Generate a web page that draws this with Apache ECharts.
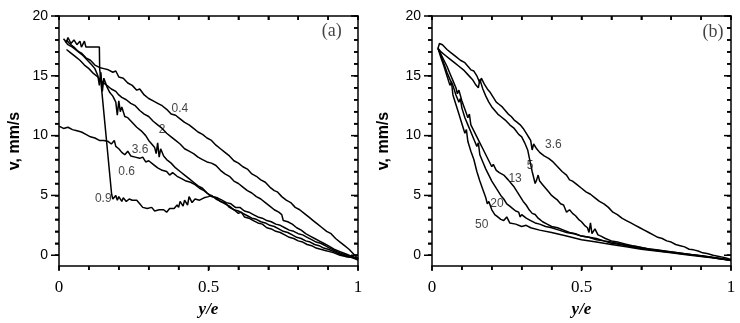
<!DOCTYPE html>
<html><head><meta charset="utf-8">
<script src="https://cdn.jsdelivr.net/npm/echarts@6/dist/echarts.min.js"></script>
<style>html,body{margin:0;padding:0;background:#fff}#c{width:740px;height:323px}</style>
</head><body><div id="c"></div>
<script>
// ---- Panel (a) curves: [y/e, v]
const a04 = [[0.02,17.9],[0.03,17.6],[0.045,17.4],[0.06,17.1],[0.075,16.9],[0.09,16.5],[0.105,16.3],[0.12,15.9],[0.135,15.7],[0.15,15.6],[0.165,15.5],[0.18,15.3],[0.19,15.4],[0.2,14.9],[0.215,14.8],[0.23,14.4],[0.245,14.2],[0.26,13.8],[0.27,13.9],[0.285,13.4],[0.3,13.1],[0.315,12.9],[0.33,12.7],[0.345,12.5],[0.36,12.2],[0.375,11.8],[0.39,11.7],[0.405,11.4],[0.42,11.1],[0.435,10.9],[0.45,10.6],[0.465,10.3],[0.48,10.1],[0.495,9.8],[0.51,9.6],[0.525,9.2],[0.54,8.9],[0.555,8.6],[0.57,8.3],[0.585,7.9],[0.6,7.7],[0.615,7.4],[0.63,7.2],[0.645,6.8],[0.66,6.6],[0.675,6.3],[0.69,6.1],[0.705,5.7],[0.72,5.4],[0.73,5.3],[0.745,4.9],[0.76,4.6],[0.775,4.4],[0.79,4.0],[0.805,3.8],[0.82,3.5],[0.835,3.2],[0.85,2.9],[0.865,2.6],[0.88,2.3],[0.895,2.0],[0.91,1.8],[0.925,1.4],[0.94,1.1],[0.955,0.8],[0.97,0.5],[0.985,0.1],[1.0,-0.3]];
const a2 = [[0.025,17.2],[0.04,16.9],[0.055,16.6],[0.07,16.3],[0.085,15.9],[0.1,15.6],[0.115,15.2],[0.13,14.9],[0.145,14.5],[0.16,14.2],[0.175,13.9],[0.19,13.7],[0.2,13.4],[0.21,13.2],[0.225,13.0],[0.24,12.7],[0.255,12.5],[0.27,12.1],[0.285,11.8],[0.3,11.6],[0.315,11.2],[0.33,10.9],[0.345,10.6],[0.36,10.2],[0.375,9.9],[0.39,9.6],[0.405,9.3],[0.42,8.9],[0.435,8.7],[0.45,8.5],[0.465,8.2],[0.48,8.0],[0.495,7.8],[0.51,7.7],[0.525,7.5],[0.54,7.1],[0.555,6.8],[0.57,6.6],[0.585,6.2],[0.6,6.0],[0.615,5.7],[0.63,5.4],[0.645,5.2],[0.66,4.9],[0.675,4.7],[0.69,4.4],[0.705,4.1],[0.72,3.8],[0.735,3.6],[0.745,3.4],[0.75,2.9],[0.765,2.8],[0.78,2.6],[0.795,2.3],[0.81,2.1],[0.825,1.8],[0.84,1.6],[0.855,1.4],[0.87,1.2],[0.885,1.0],[0.9,0.8],[0.92,0.5],[0.94,0.3],[0.96,0.1],[0.98,-0.1],[1.0,-0.3]];
const a36 = [[0.025,18.0],[0.035,17.7],[0.05,17.4],[0.065,17.0],[0.08,16.7],[0.095,16.3],[0.11,15.9],[0.12,15.6],[0.13,15.0],[0.135,14.2],[0.14,15.3],[0.145,13.7],[0.15,14.8],[0.16,14.1],[0.17,13.6],[0.18,13.3],[0.19,12.8],[0.195,11.7],[0.2,12.9],[0.205,12.0],[0.21,12.4],[0.22,11.6],[0.23,11.5],[0.245,11.1],[0.26,10.7],[0.275,10.4],[0.29,10.0],[0.3,9.6],[0.31,9.3],[0.32,9.0],[0.325,8.5],[0.33,9.4],[0.335,8.2],[0.34,8.9],[0.35,8.3],[0.36,8.0],[0.375,7.7],[0.39,7.3],[0.405,7.0],[0.42,6.7],[0.435,6.4],[0.45,6.1],[0.465,5.8],[0.48,5.6],[0.495,5.2],[0.51,4.9],[0.525,4.8],[0.54,4.5],[0.555,4.4],[0.57,4.0],[0.585,3.8],[0.6,3.5],[0.61,3.6],[0.62,3.2],[0.635,3.1],[0.65,2.9],[0.665,2.7],[0.68,2.6],[0.695,2.3],[0.71,2.2],[0.725,2.0],[0.74,1.9],[0.755,1.7],[0.77,1.5],[0.785,1.4],[0.8,1.2],[0.815,1.1],[0.83,0.9],[0.845,0.8],[0.86,0.6],[0.875,0.5],[0.89,0.4],[0.905,0.3],[0.92,0.2],[0.94,0.0],[0.96,-0.1],[0.98,-0.2],[1.0,-0.3]];
const a06 = [[0.0,10.8],[0.015,10.6],[0.03,10.7],[0.045,10.5],[0.06,10.4],[0.075,10.3],[0.09,10.1],[0.105,9.9],[0.12,9.8],[0.135,9.6],[0.15,9.6],[0.165,9.5],[0.175,9.3],[0.185,9.6],[0.19,9.1],[0.2,8.9],[0.21,8.6],[0.22,8.4],[0.23,8.7],[0.24,8.3],[0.255,8.2],[0.27,8.1],[0.28,8.2],[0.29,7.8],[0.3,7.9],[0.315,7.6],[0.33,7.3],[0.345,7.1],[0.36,7.0],[0.37,6.7],[0.38,6.9],[0.395,6.6],[0.41,6.4],[0.425,6.2],[0.44,6.1],[0.455,5.9],[0.47,5.6],[0.485,5.4],[0.5,5.1],[0.515,4.9],[0.53,4.8],[0.545,4.6],[0.56,4.4],[0.575,4.3],[0.59,4.0],[0.605,4.0],[0.62,3.7],[0.635,3.6],[0.65,3.4],[0.665,3.2],[0.68,3.1],[0.695,2.9],[0.71,2.8],[0.725,2.6],[0.74,2.5],[0.755,2.3],[0.77,2.1],[0.785,2.0],[0.8,1.8],[0.815,1.7],[0.83,1.5],[0.845,1.3],[0.86,1.1],[0.875,1.0],[0.89,0.8],[0.905,0.6],[0.92,0.4],[0.94,0.2],[0.96,0.0],[0.98,-0.1],[1.0,-0.3]];
const a09 = [[0.015,18.1],[0.025,17.8],[0.03,18.2],[0.04,17.7],[0.05,18.0],[0.06,17.6],[0.07,17.9],[0.075,17.4],[0.085,17.9],[0.09,17.4],[0.135,17.4],[0.136,15.6],[0.176,5.1],[0.18,4.7],[0.19,5.0],[0.195,4.6],[0.2,4.9],[0.21,4.5],[0.215,4.8],[0.225,4.5],[0.235,4.7],[0.245,4.6],[0.26,4.6],[0.27,4.3],[0.28,4.0],[0.295,3.9],[0.31,4.0],[0.32,3.7],[0.335,3.8],[0.35,3.8],[0.36,3.6],[0.37,3.9],[0.385,3.9],[0.395,4.2],[0.4,4.0],[0.405,4.5],[0.415,4.1],[0.42,4.6],[0.43,4.2],[0.435,4.9],[0.445,4.4],[0.455,4.7],[0.47,4.6],[0.485,4.8],[0.5,4.9],[0.51,5.0],[0.525,4.7],[0.54,4.5],[0.555,4.3],[0.57,4.1],[0.585,3.8],[0.6,3.7],[0.615,3.5],[0.63,3.3],[0.645,3.1],[0.66,3.0],[0.675,2.8],[0.69,2.7],[0.705,2.5],[0.72,2.4],[0.735,2.2],[0.75,2.0],[0.765,1.9],[0.78,1.7],[0.795,1.5],[0.81,1.4],[0.825,1.2],[0.84,1.1],[0.855,0.9],[0.87,0.8],[0.885,0.6],[0.9,0.5],[0.92,0.3],[0.94,0.1],[0.96,-0.1],[0.98,-0.2],[1.0,-0.4]];

// ---- Panel (b) curves
const b36 = [[0.02,17.3],[0.025,17.7],[0.035,17.6],[0.05,17.2],[0.065,16.9],[0.08,16.6],[0.095,16.3],[0.11,16.1],[0.12,15.8],[0.13,15.5],[0.14,15.4],[0.15,15.0],[0.16,14.4],[0.165,14.8],[0.175,14.3],[0.185,13.9],[0.195,13.6],[0.205,13.2],[0.215,12.8],[0.225,12.6],[0.235,12.4],[0.245,12.1],[0.255,11.8],[0.265,11.6],[0.275,11.3],[0.285,11.1],[0.295,10.9],[0.305,10.6],[0.315,10.2],[0.325,9.8],[0.33,9.6],[0.335,8.8],[0.34,9.3],[0.35,8.9],[0.36,8.6],[0.375,8.3],[0.39,8.1],[0.405,7.8],[0.42,7.4],[0.435,7.0],[0.45,6.7],[0.46,6.3],[0.47,6.2],[0.485,5.9],[0.5,5.6],[0.515,5.3],[0.53,5.1],[0.545,4.8],[0.56,4.5],[0.575,4.3],[0.59,4.0],[0.605,3.6],[0.62,3.4],[0.635,3.1],[0.65,2.9],[0.665,2.7],[0.68,2.5],[0.695,2.3],[0.71,2.1],[0.725,1.9],[0.74,1.7],[0.755,1.5],[0.77,1.4],[0.785,1.2],[0.8,1.1],[0.815,0.9],[0.83,0.8],[0.845,0.7],[0.86,0.5],[0.875,0.45],[0.89,0.35],[0.905,0.2],[0.92,0.15],[0.94,0.0],[0.96,-0.1],[0.98,-0.2],[1.0,-0.35]];
const b5 = [[0.02,17.3],[0.03,17.0],[0.045,16.7],[0.06,16.4],[0.075,16.1],[0.09,15.8],[0.105,15.5],[0.12,15.1],[0.135,14.7],[0.145,14.3],[0.155,14.0],[0.16,14.7],[0.17,13.9],[0.18,13.3],[0.19,12.8],[0.2,12.4],[0.21,12.1],[0.22,11.8],[0.23,11.6],[0.245,11.3],[0.26,10.9],[0.275,10.6],[0.29,10.1],[0.3,9.9],[0.31,9.4],[0.32,8.8],[0.325,8.2],[0.33,7.6],[0.335,7.0],[0.34,6.5],[0.345,6.0],[0.35,6.3],[0.355,6.7],[0.36,6.2],[0.37,5.9],[0.38,5.6],[0.39,5.3],[0.4,5.0],[0.41,4.8],[0.42,4.6],[0.43,4.3],[0.44,4.2],[0.45,3.6],[0.46,3.8],[0.47,3.5],[0.48,3.3],[0.49,3.0],[0.5,2.8],[0.51,2.5],[0.52,2.3],[0.525,1.9],[0.53,2.7],[0.535,1.8],[0.545,2.2],[0.555,1.7],[0.565,1.6],[0.58,1.4],[0.6,1.2],[0.62,1.1],[0.645,0.95],[0.67,0.8],[0.7,0.65],[0.73,0.5],[0.76,0.4],[0.79,0.3],[0.82,0.2],[0.85,0.1],[0.88,0.0],[0.91,-0.1],[0.94,-0.2],[0.97,-0.3],[1.0,-0.45]];
const b13 = [[0.02,17.3],[0.03,16.8],[0.04,16.3],[0.05,15.8],[0.06,15.2],[0.07,14.6],[0.08,14.0],[0.085,13.5],[0.09,13.8],[0.1,12.9],[0.11,12.2],[0.12,11.5],[0.125,11.8],[0.13,10.9],[0.14,10.4],[0.15,9.9],[0.16,9.4],[0.17,8.9],[0.18,8.4],[0.19,7.9],[0.2,7.4],[0.205,7.6],[0.215,7.1],[0.225,6.9],[0.24,6.7],[0.255,6.3],[0.265,6.0],[0.275,5.7],[0.285,5.3],[0.295,4.9],[0.305,4.5],[0.315,4.2],[0.325,3.8],[0.335,3.5],[0.345,3.4],[0.355,3.1],[0.37,2.8],[0.385,2.6],[0.4,2.4],[0.42,2.3],[0.44,2.1],[0.46,1.9],[0.48,1.8],[0.5,1.6],[0.525,1.5],[0.55,1.3],[0.575,1.2],[0.6,1.0],[0.63,0.9],[0.66,0.75],[0.69,0.6],[0.72,0.5],[0.75,0.4],[0.78,0.3],[0.81,0.2],[0.84,0.1],[0.87,0.05],[0.9,-0.05],[0.93,-0.15],[0.96,-0.25],[1.0,-0.4]];
const b20 = [[0.02,17.3],[0.03,16.7],[0.04,16.0],[0.05,15.3],[0.06,14.7],[0.07,14.2],[0.08,13.4],[0.09,12.8],[0.095,13.1],[0.1,12.3],[0.11,11.5],[0.12,10.9],[0.13,10.3],[0.14,9.7],[0.15,9.1],[0.155,9.4],[0.16,8.4],[0.17,7.8],[0.18,7.2],[0.19,6.7],[0.2,6.2],[0.21,5.8],[0.22,5.4],[0.23,5.0],[0.24,4.7],[0.25,4.3],[0.26,4.1],[0.27,3.9],[0.28,3.7],[0.29,3.6],[0.295,3.2],[0.3,3.4],[0.315,3.1],[0.33,2.9],[0.345,2.7],[0.36,2.6],[0.38,2.4],[0.4,2.3],[0.425,2.1],[0.45,1.9],[0.475,1.8],[0.5,1.6],[0.525,1.5],[0.55,1.4],[0.575,1.2],[0.6,1.1],[0.63,0.95],[0.66,0.8],[0.69,0.7],[0.72,0.55],[0.75,0.45],[0.78,0.35],[0.81,0.25],[0.84,0.15],[0.87,0.05],[0.9,-0.05],[0.93,-0.15],[0.96,-0.3],[1.0,-0.4]];
const b50 = [[0.02,17.3],[0.03,16.5],[0.04,15.8],[0.05,15.0],[0.06,14.2],[0.065,14.5],[0.07,13.4],[0.08,12.6],[0.09,11.8],[0.1,11.0],[0.11,10.2],[0.115,10.5],[0.12,9.5],[0.13,8.7],[0.14,8.0],[0.15,7.0],[0.16,6.2],[0.17,5.5],[0.18,4.8],[0.185,4.3],[0.19,4.5],[0.2,3.8],[0.21,3.4],[0.22,3.2],[0.23,3.0],[0.24,2.9],[0.25,3.2],[0.26,2.7],[0.28,2.6],[0.3,2.4],[0.315,2.5],[0.33,2.3],[0.36,2.1],[0.4,1.9],[0.45,1.6],[0.5,1.3],[0.55,1.1],[0.6,0.9],[0.65,0.7],[0.7,0.5],[0.75,0.35],[0.8,0.2],[0.85,0.05],[0.9,-0.1],[0.95,-0.25],[1.0,-0.45]];

// ---- Curve labels (text + anchor in data coords)
const labelsAText = ['0.4','2','3.6','0.6','0.9'];
const labelsAX = [0.404,0.345,0.271,0.226,0.148];
const labelsAY = [12.26,10.48,8.83,7.0,4.72];
const labelsBText = ['3.6','5','13','20','50'];
const labelsBX = [0.406,0.328,0.278,0.217,0.166];
const labelsBY = [9.24,7.46,6.36,4.3,2.58];
const panelTags = ['(a)','(b)'];
const panelTagX = [0.912,0.94];
const panelTagY = [18.7,18.6];

// ---- Axis ticks / labels
const yMin = -0.9, yMax = 20;
const yMajor = [0,5,10,15,20];
const yMinor = [1,2,3,4,6,7,8,9,11,12,13,14,16,17,18,19];
const yAllTicks = [0,1,2,3,4,5,6,7,8,9,10,11,12,13,14,15,16,17,18,19,20];
const xMajor = [0,0.5,1];
const xMinor = [0.1,0.2,0.3,0.4,0.6,0.7,0.8,0.9];
const xAllTicks = [0,0.1,0.2,0.3,0.4,0.5,0.6,0.7,0.8,0.9,1];
const xLabelValues = [0,0.5,1];
const yName = 'v, mm/s';
const xName = 'y/e';

const chart = echarts.init(document.getElementById('c'));
const K = '#000';
const grids = [
  {left:59, top:16, width:299, height:254},
  {left:432, top:16, width:299, height:254}
];
const xAxes = [], yAxes = [];
grids.forEach((g,i)=>{
  xAxes.push({gridIndex:i, type:'value', min:0, max:1, position:'bottom',
    axisLine:{show:true, onZero:false, lineStyle:{color:K, width:1.5}},
    axisTick:{show:true, inside:false, length:4, customValues:xAllTicks, lineStyle:{color:K, width:1.5}},
    splitLine:{show:false},
    axisLabel:{show:true, customValues:xLabelValues, margin:13, color:'#000', fontFamily:'Liberation Serif', fontSize:17},
    name:xName, nameLocation:'middle', nameGap:35,
    nameTextStyle:{fontFamily:'Liberation Serif', fontWeight:'bold', fontStyle:'italic', fontSize:17, color:'#000'}});
  xAxes.push({gridIndex:i, type:'value', min:0, max:1, position:'top',
    axisLine:{show:true, onZero:false, lineStyle:{color:K, width:1.5}},
    axisTick:{show:true, inside:true, length:4, customValues:xAllTicks, lineStyle:{color:K, width:1.5}},
    splitLine:{show:false}, axisLabel:{show:false, customValues:xLabelValues}});
  yAxes.push({gridIndex:i, type:'value', min:yMin, max:yMax, position:'left',
    axisLine:{show:true, onZero:false, lineStyle:{color:K, width:1.5}},
    axisTick:{show:true, inside:false, length:4, customValues:yAllTicks, lineStyle:{color:K, width:1.5}},
    splitLine:{show:false},
    axisLabel:{show:true, customValues:yMajor, margin:11, color:'#000', fontFamily:'Liberation Sans', fontSize:14},
    name:yName, nameLocation:'middle', nameGap: i===0?36:40,
    nameTextStyle:{fontFamily:'Liberation Sans', fontWeight:'bold', fontSize:16, color:'#000'}});
  yAxes.push({gridIndex:i, type:'value', min:yMin, max:yMax, position:'right',
    axisLine:{show:true, onZero:false, lineStyle:{color:K, width:1.5}},
    axisTick:{show:true, inside:true, length:4, customValues:yAllTicks, lineStyle:{color:K, width:1.5}},
    splitLine:{show:false}, axisLabel:{show:false, customValues:yMajor}});
});

// tick marks drawn through the axes' scales: items are [x, y, length, kind] (kind 0 = x-tick, 1 = y-tick)
function tickData(){
  const d = [];
  xMajor.forEach(v=>d.push([v, yMin, 5, 0]));
  xMinor.forEach(v=>d.push([v, yMin, 4, 0]));
  yMajor.forEach(v=>d.push([0, v, 8, 1]));
  yMinor.forEach(v=>d.push([0, v, 4, 1]));
  return d;
}
function tickSeries(gi){
  return {type:'custom', xAxisIndex:gi*2, yAxisIndex:gi*2, data:tickData(), clip:false, silent:true, animation:false, z:4,
    renderItem:function(params, api){
      const kind = api.value(3), len = api.value(2), v = kind === 0 ? api.value(0) : api.value(1);
      const st = {stroke:'#000', lineWidth:1.5};
      if (kind === 0) {
        const pb = api.coord([v, yMin]);
        const pt = api.coord([v, yMax]);
        return {type:'group', children:[
          {type:'line', shape:{x1:pb[0], y1:pb[1], x2:pb[0], y2:pb[1]+len}, style:st},
          {type:'line', shape:{x1:pt[0], y1:pt[1], x2:pt[0], y2:pt[1]+Math.min(len,4)}, style:st}
        ]};
      }
      const pl = api.coord([0, v]);
      const pr = api.coord([1, v]);
      return {type:'group', children:[
        {type:'line', shape:{x1:pl[0]-len, y1:pl[1], x2:pl[0], y2:pl[1]}, style:st},
        {type:'line', shape:{x1:pr[0]-Math.min(len,7), y1:pr[1], x2:pr[0], y2:pr[1]}, style:st}
      ]};
    }};
}

function lineSeries(data, gi){
  return {type:'line', data:data, xAxisIndex:gi*2, yAxisIndex:gi*2, showSymbol:false, symbol:'none',
    lineStyle:{color:K, width:1.5}, itemStyle:{color:K}, animation:false, silent:true, z:3};
}
function labelSeries(texts, xs, ys, gi, font, size){
  return {type:'scatter', xAxisIndex:gi*2, yAxisIndex:gi*2, symbolSize:0, animation:false, silent:true, z:5,
    data: texts.map((t,k)=>({value:[xs[k], ys[k]], name:t})),
    label:{show:true, position:'inside', formatter:p=>p.name, color:'#111', fontFamily:font, fontSize:size}};
}

const series = [
  tickSeries(0), tickSeries(1),
  lineSeries(a04,0), lineSeries(a2,0), lineSeries(a36,0), lineSeries(a06,0), lineSeries(a09,0),
  lineSeries(b36,1), lineSeries(b5,1), lineSeries(b13,1), lineSeries(b20,1), lineSeries(b50,1),
  labelSeries(labelsAText, labelsAX, labelsAY, 0, 'Liberation Sans', 12),
  labelSeries(labelsBText, labelsBX, labelsBY, 1, 'Liberation Sans', 12),
  labelSeries([panelTags[0]], [panelTagX[0]], [panelTagY[0]], 0, 'Liberation Serif', 18),
  labelSeries([panelTags[1]], [panelTagX[1]], [panelTagY[1]], 1, 'Liberation Serif', 18)
];

chart.setOption({animation:false, backgroundColor:'#fff', grid:grids, xAxis:xAxes, yAxis:yAxes, series:series});
</script></body></html>
